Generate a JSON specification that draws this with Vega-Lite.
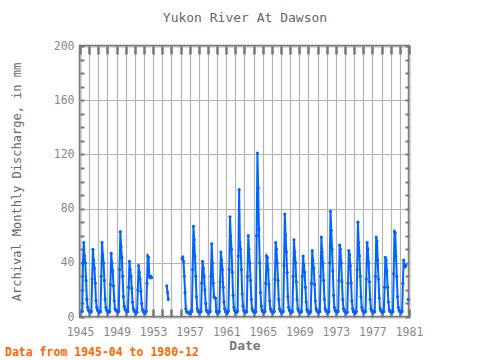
{
"$schema": "https://vega.github.io/schema/vega-lite/v6.json",
"width": 329, "height": 271,
"autosize": "none",
"padding": {"left": 80, "top": 46, "right": 71, "bottom": 43},
"background": "white",
"config": {"view": {"stroke": "#777777", "strokeWidth": 2.5}, "font": "DejaVu Sans Mono"},
"title": {"text": "Data from 1945-04 to 1980-12", "orient": "bottom", "anchor": "start", "frame": "group", "dx": -75, "offset": -6, "color": "#ff6600", "fontSize": 11.5, "fontWeight": "bold", "font": "DejaVu Sans Mono"},
"data": {"values": [
{"d":"1945-04","v":4},{"d":"1945-05","v":40},{"d":"1945-06","v":55},{"d":"1945-07","v":45},{"d":"1945-08","v":40},{"d":"1945-09","v":27},{"d":"1945-10","v":13},{"d":"1945-11","v":7},{"d":"1945-12","v":5},
{"d":"1946-01","v":4.5},{"d":"1946-02","v":4},{"d":"1946-03","v":3.5},{"d":"1946-04","v":4},{"d":"1946-05","v":28},{"d":"1946-06","v":50},{"d":"1946-07","v":42},{"d":"1946-08","v":36},{"d":"1946-09","v":25},{"d":"1946-10","v":12},{"d":"1946-11","v":7},{"d":"1946-12","v":5},
{"d":"1947-01","v":4.5},{"d":"1947-02","v":4},{"d":"1947-03","v":3.5},{"d":"1947-04","v":4},{"d":"1947-05","v":30},{"d":"1947-06","v":55},{"d":"1947-07","v":46},{"d":"1947-08","v":40},{"d":"1947-09","v":27},{"d":"1947-10","v":13},{"d":"1947-11","v":7},{"d":"1947-12","v":5},
{"d":"1948-01","v":4.5},{"d":"1948-02","v":4},{"d":"1948-03","v":3.5},{"d":"1948-04","v":4},{"d":"1948-05","v":24},{"d":"1948-06","v":47},{"d":"1948-07","v":40},{"d":"1948-08","v":34},{"d":"1948-09","v":23},{"d":"1948-10","v":12},{"d":"1948-11","v":6},{"d":"1948-12","v":5},
{"d":"1949-01","v":4.5},{"d":"1949-02","v":4},{"d":"1949-03","v":3.5},{"d":"1949-04","v":4.5},{"d":"1949-05","v":35},{"d":"1949-06","v":63},{"d":"1949-07","v":52},{"d":"1949-08","v":44},{"d":"1949-09","v":30},{"d":"1949-10","v":15},{"d":"1949-11","v":8},{"d":"1949-12","v":6},
{"d":"1950-01","v":5},{"d":"1950-02","v":4.5},{"d":"1950-03","v":4},{"d":"1950-04","v":4},{"d":"1950-05","v":22},{"d":"1950-06","v":41},{"d":"1950-07","v":35},{"d":"1950-08","v":30},{"d":"1950-09","v":21},{"d":"1950-10","v":11},{"d":"1950-11","v":6},{"d":"1950-12","v":4.5},
{"d":"1951-01","v":4},{"d":"1951-02","v":3.5},{"d":"1951-03","v":3},{"d":"1951-04","v":3.5},{"d":"1951-05","v":20},{"d":"1951-06","v":38},{"d":"1951-07","v":33},{"d":"1951-08","v":28},{"d":"1951-09","v":19},{"d":"1951-10","v":10},{"d":"1951-11","v":5.5},{"d":"1951-12","v":4},
{"d":"1952-01","v":3.5},{"d":"1952-02","v":3},{"d":"1952-03","v":3},{"d":"1952-04","v":4},{"d":"1952-05","v":25},{"d":"1952-06","v":45},{"d":"1952-07","v":44},{"d":"1952-08","v":30},{"d":"1952-09","v":29},{"d":"1952-10","v":30},{"d":"1952-11","v":29},
{"d":"1953-01","v":null},
{"d":"1954-07","v":23},{"d":"1954-08","v":18},{"d":"1954-09","v":13},
{"d":"1955-01","v":null},
{"d":"1956-03","v":43},{"d":"1956-04","v":44},{"d":"1956-05","v":41},{"d":"1956-06","v":30},{"d":"1956-07","v":18},{"d":"1956-08","v":6},{"d":"1956-09","v":4},{"d":"1956-10","v":3.5},{"d":"1956-11","v":3},{"d":"1956-12","v":3},
{"d":"1957-01","v":3},{"d":"1957-02","v":3},{"d":"1957-03","v":3.5},{"d":"1957-04","v":5},{"d":"1957-05","v":35},{"d":"1957-06","v":67},{"d":"1957-07","v":57},{"d":"1957-08","v":45},{"d":"1957-09","v":30},{"d":"1957-10","v":15},{"d":"1957-11","v":6},{"d":"1957-12","v":4},
{"d":"1958-01","v":4},{"d":"1958-02","v":3.5},{"d":"1958-03","v":3.5},{"d":"1958-04","v":4},{"d":"1958-05","v":25},{"d":"1958-06","v":41},{"d":"1958-07","v":36},{"d":"1958-08","v":30},{"d":"1958-09","v":20},{"d":"1958-10","v":10},{"d":"1958-11","v":5},{"d":"1958-12","v":4},
{"d":"1959-01","v":3.5},{"d":"1959-02","v":3.5},{"d":"1959-03","v":3.5},{"d":"1959-04","v":4},{"d":"1959-05","v":30},{"d":"1959-06","v":54},{"d":"1959-07","v":40},{"d":"1959-08","v":25},{"d":"1959-09","v":15},{"d":"1959-10","v":14},{"d":"1959-11","v":14},{"d":"1959-12","v":4},
{"d":"1960-01","v":3.5},{"d":"1960-02","v":3},{"d":"1960-03","v":3},{"d":"1960-04","v":4},{"d":"1960-05","v":26},{"d":"1960-06","v":48},{"d":"1960-07","v":42},{"d":"1960-08","v":35},{"d":"1960-09","v":22},{"d":"1960-10","v":11},{"d":"1960-11","v":6},{"d":"1960-12","v":4},
{"d":"1961-01","v":3.5},{"d":"1961-02","v":3},{"d":"1961-03","v":3},{"d":"1961-04","v":4.5},{"d":"1961-05","v":35},{"d":"1961-06","v":74},{"d":"1961-07","v":60},{"d":"1961-08","v":50},{"d":"1961-09","v":33},{"d":"1961-10","v":16},{"d":"1961-11","v":7},{"d":"1961-12","v":5},
{"d":"1962-01","v":4},{"d":"1962-02","v":3.5},{"d":"1962-03","v":3.5},{"d":"1962-04","v":4.5},{"d":"1962-05","v":45},{"d":"1962-06","v":94},{"d":"1962-07","v":55},{"d":"1962-08","v":50},{"d":"1962-09","v":35},{"d":"1962-10","v":17},{"d":"1962-11","v":8},{"d":"1962-12","v":5},
{"d":"1963-01","v":4},{"d":"1963-02","v":3.5},{"d":"1963-03","v":3.5},{"d":"1963-04","v":4},{"d":"1963-05","v":30},{"d":"1963-06","v":60},{"d":"1963-07","v":50},{"d":"1963-08","v":40},{"d":"1963-09","v":27},{"d":"1963-10","v":13},{"d":"1963-11","v":6},{"d":"1963-12","v":4.5},
{"d":"1964-01","v":4},{"d":"1964-02","v":3.5},{"d":"1964-03","v":3.5},{"d":"1964-04","v":4},{"d":"1964-05","v":60},{"d":"1964-06","v":121},{"d":"1964-07","v":95},{"d":"1964-08","v":65},{"d":"1964-09","v":40},{"d":"1964-10","v":18},{"d":"1964-11","v":8},{"d":"1964-12","v":5},
{"d":"1965-01","v":4},{"d":"1965-02","v":3.5},{"d":"1965-03","v":3.5},{"d":"1965-04","v":4},{"d":"1965-05","v":25},{"d":"1965-06","v":45},{"d":"1965-07","v":44},{"d":"1965-08","v":35},{"d":"1965-09","v":24},{"d":"1965-10","v":12},{"d":"1965-11","v":6},{"d":"1965-12","v":4.5},
{"d":"1966-01","v":4},{"d":"1966-02","v":3.5},{"d":"1966-03","v":3.5},{"d":"1966-04","v":4},{"d":"1966-05","v":28},{"d":"1966-06","v":55},{"d":"1966-07","v":50},{"d":"1966-08","v":40},{"d":"1966-09","v":27},{"d":"1966-10","v":13},{"d":"1966-11","v":6},{"d":"1966-12","v":4.5},
{"d":"1967-01","v":4},{"d":"1967-02","v":3.5},{"d":"1967-03","v":3.5},{"d":"1967-04","v":4},{"d":"1967-05","v":38},{"d":"1967-06","v":76},{"d":"1967-07","v":60},{"d":"1967-08","v":48},{"d":"1967-09","v":33},{"d":"1967-10","v":15},{"d":"1967-11","v":7},{"d":"1967-12","v":5},
{"d":"1968-01","v":4},{"d":"1968-02","v":3.5},{"d":"1968-03","v":3.5},{"d":"1968-04","v":4},{"d":"1968-05","v":30},{"d":"1968-06","v":57},{"d":"1968-07","v":48},{"d":"1968-08","v":40},{"d":"1968-09","v":26},{"d":"1968-10","v":13},{"d":"1968-11","v":6},{"d":"1968-12","v":4.5},
{"d":"1969-01","v":4},{"d":"1969-02","v":3.5},{"d":"1969-03","v":3.5},{"d":"1969-04","v":4},{"d":"1969-05","v":30},{"d":"1969-06","v":45},{"d":"1969-07","v":38},{"d":"1969-08","v":33},{"d":"1969-09","v":22},{"d":"1969-10","v":11},{"d":"1969-11","v":5.5},{"d":"1969-12","v":4},
{"d":"1970-01","v":3.5},{"d":"1970-02","v":3},{"d":"1970-03","v":3},{"d":"1970-04","v":4},{"d":"1970-05","v":25},{"d":"1970-06","v":49},{"d":"1970-07","v":42},{"d":"1970-08","v":36},{"d":"1970-09","v":24},{"d":"1970-10","v":12},{"d":"1970-11","v":6},{"d":"1970-12","v":4.5},
{"d":"1971-01","v":4},{"d":"1971-02","v":3.5},{"d":"1971-03","v":3.5},{"d":"1971-04","v":4},{"d":"1971-05","v":30},{"d":"1971-06","v":59},{"d":"1971-07","v":48},{"d":"1971-08","v":40},{"d":"1971-09","v":27},{"d":"1971-10","v":13},{"d":"1971-11","v":6},{"d":"1971-12","v":4.5},
{"d":"1972-01","v":4},{"d":"1972-02","v":3.5},{"d":"1972-03","v":3.5},{"d":"1972-04","v":4},{"d":"1972-05","v":40},{"d":"1972-06","v":78},{"d":"1972-07","v":64},{"d":"1972-08","v":50},{"d":"1972-09","v":34},{"d":"1972-10","v":16},{"d":"1972-11","v":7},{"d":"1972-12","v":5},
{"d":"1973-01","v":4},{"d":"1973-02","v":3.5},{"d":"1973-03","v":3.5},{"d":"1973-04","v":4},{"d":"1973-05","v":27},{"d":"1973-06","v":53},{"d":"1973-07","v":50},{"d":"1973-08","v":40},{"d":"1973-09","v":26},{"d":"1973-10","v":13},{"d":"1973-11","v":6},{"d":"1973-12","v":4.5},
{"d":"1974-01","v":4},{"d":"1974-02","v":3.5},{"d":"1974-03","v":3},{"d":"1974-04","v":3.5},{"d":"1974-05","v":25},{"d":"1974-06","v":49},{"d":"1974-07","v":46},{"d":"1974-08","v":38},{"d":"1974-09","v":25},{"d":"1974-10","v":12},{"d":"1974-11","v":6},{"d":"1974-12","v":4},
{"d":"1975-01","v":3.5},{"d":"1975-02","v":3},{"d":"1975-03","v":3},{"d":"1975-04","v":4},{"d":"1975-05","v":35},{"d":"1975-06","v":70},{"d":"1975-07","v":55},{"d":"1975-08","v":45},{"d":"1975-09","v":30},{"d":"1975-10","v":15},{"d":"1975-11","v":7},{"d":"1975-12","v":5},
{"d":"1976-01","v":4},{"d":"1976-02","v":3.5},{"d":"1976-03","v":3.5},{"d":"1976-04","v":4},{"d":"1976-05","v":28},{"d":"1976-06","v":55},{"d":"1976-07","v":50},{"d":"1976-08","v":40},{"d":"1976-09","v":26},{"d":"1976-10","v":13},{"d":"1976-11","v":6},{"d":"1976-12","v":4.5},
{"d":"1977-01","v":4},{"d":"1977-02","v":3.5},{"d":"1977-03","v":3.5},{"d":"1977-04","v":4},{"d":"1977-05","v":30},{"d":"1977-06","v":59},{"d":"1977-07","v":56},{"d":"1977-08","v":42},{"d":"1977-09","v":28},{"d":"1977-10","v":14},{"d":"1977-11","v":6},{"d":"1977-12","v":4.5},
{"d":"1978-01","v":4},{"d":"1978-02","v":3.5},{"d":"1978-03","v":3.5},{"d":"1978-04","v":4},{"d":"1978-05","v":22},{"d":"1978-06","v":44},{"d":"1978-07","v":42},{"d":"1978-08","v":34},{"d":"1978-09","v":22},{"d":"1978-10","v":11},{"d":"1978-11","v":5.5},{"d":"1978-12","v":4},
{"d":"1979-01","v":4},{"d":"1979-02","v":3.5},{"d":"1979-03","v":3.5},{"d":"1979-04","v":4},{"d":"1979-05","v":32},{"d":"1979-06","v":63},{"d":"1979-07","v":62},{"d":"1979-08","v":45},{"d":"1979-09","v":30},{"d":"1979-10","v":15},{"d":"1979-11","v":7},{"d":"1979-12","v":5},
{"d":"1980-01","v":4},{"d":"1980-02","v":3.5},{"d":"1980-03","v":3.5},{"d":"1980-04","v":4},{"d":"1980-05","v":25},{"d":"1980-06","v":42},{"d":"1980-07","v":38},{"d":"1980-08","v":37},{"d":"1980-09","v":38},{"d":"1980-10","v":null},{"d":"1980-11","v":null},{"d":"1980-12","v":13}
]},
"layer": [
{"mark": {"type": "line", "color": "#0064ff", "strokeWidth": 2, "invalid": "break-paths-filter-domains"},
 "encoding": {
  "x": {"field": "d", "type": "temporal", "scale": {"domain": [{"year": 1945}, {"year": 1981}], "nice": false},
   "axis": {"orient": "bottom", "title": "Date", "titleFontSize": 13, "titleFontWeight": "bold", "titleColor": "#777777", "titlePadding": 2,
    "values": [{"year":1945},{"year":1946},{"year":1947},{"year":1948},{"year":1949},{"year":1950},{"year":1951},{"year":1952},{"year":1953},{"year":1954},{"year":1955},{"year":1956},{"year":1957},{"year":1958},{"year":1959},{"year":1960},{"year":1961},{"year":1962},{"year":1963},{"year":1964},{"year":1965},{"year":1966},{"year":1967},{"year":1968},{"year":1969},{"year":1970},{"year":1971},{"year":1972},{"year":1973},{"year":1974},{"year":1975},{"year":1976},{"year":1977},{"year":1978},{"year":1979},{"year":1980},{"year":1981}],
    "labelExpr": "year(datum.value) % 4 == 1 ? timeFormat(datum.value, '%Y') : ''",
    "labelFontSize": 11.5, "labelColor": "#888888", "labelPadding": 17, "labelFlush": false, "labelOverlap": false,
    "grid": true, "gridColor": "#b4b4b4", "gridWidth": 1.2, "domain": false, "ticks": true, "tickSize": -8, "tickColor": "#777777", "tickWidth": 2.5}},
  "y": {"field": "v", "type": "quantitative", "scale": {"domain": [0, 200], "nice": false},
   "axis": {"orient": "left", "title": "Archival Monthly Discharge, in mm", "titleFontSize": 12, "titleFontWeight": "normal", "titleColor": "#666666", "titlePadding": 30,
    "values": [0,10,20,30,40,50,60,70,80,90,100,110,120,130,140,150,160,170,180,190,200],
    "labelExpr": "datum.value % 40 == 0 ? datum.label : ''",
    "labelFontSize": 11.5, "labelColor": "#888888", "labelPadding": 10,
    "grid": true, "gridColor": "#b4b4b4", "gridWidth": 1.2, "gridOpacity": {"condition": {"test": "datum.value % 40 == 0", "value": 1}, "value": 0},
    "domain": false, "ticks": true, "tickSize": -4, "tickColor": "#777777", "tickWidth": 2}}
 }},
{"mark": {"type": "point", "filled": true, "color": "#0064ff", "size": 10, "opacity": 1},
 "encoding": {
  "x": {"field": "d", "type": "temporal", "scale": {"domain": [{"year": 1945}, {"year": 1981}], "nice": false},
   "axis": {"orient": "top", "title": "Yukon River At Dawson", "titleFontSize": 13, "titleFontWeight": "normal", "titleColor": "#666666", "titlePadding": 20,
    "values": [{"year":1945},{"year":1946},{"year":1947},{"year":1948},{"year":1949},{"year":1950},{"year":1951},{"year":1952},{"year":1953},{"year":1954},{"year":1955},{"year":1956},{"year":1957},{"year":1958},{"year":1959},{"year":1960},{"year":1961},{"year":1962},{"year":1963},{"year":1964},{"year":1965},{"year":1966},{"year":1967},{"year":1968},{"year":1969},{"year":1970},{"year":1971},{"year":1972},{"year":1973},{"year":1974},{"year":1975},{"year":1976},{"year":1977},{"year":1978},{"year":1979},{"year":1980},{"year":1981}],
    "labels": false, "grid": false, "domain": false, "ticks": true, "tickSize": -8, "tickColor": "#777777", "tickWidth": 2.5}},
  "y": {"field": "v", "type": "quantitative", "scale": {"domain": [0, 200], "nice": false},
   "axis": {"orient": "right", "title": null, "values": [0,10,20,30,40,50,60,70,80,90,100,110,120,130,140,150,160,170,180,190,200],
    "labels": false, "grid": false, "domain": false, "ticks": true, "tickSize": -4, "tickColor": "#777777", "tickWidth": 2}}
 }}
],
"resolve": {"scale": {"x": "independent", "y": "independent"}}
}
